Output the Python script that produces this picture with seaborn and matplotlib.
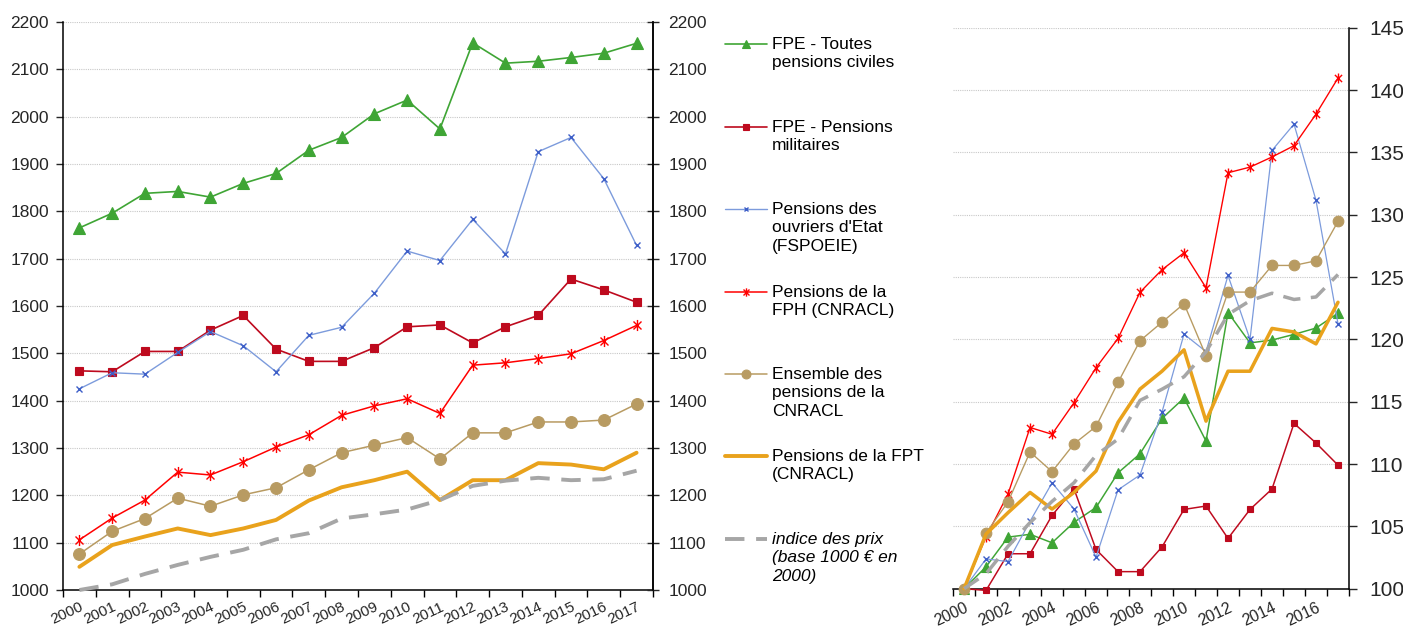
import numpy as np
import pandas as pd
import matplotlib
matplotlib.use("Agg")
import matplotlib.pyplot as plt
from matplotlib.lines import Line2D
from matplotlib.path import Path
import seaborn as sns

# ---- data: average pension amounts (euros), 2000-2017 ----
years = list(range(2000, 2018))

fpe_civiles = [1765, 1796, 1838, 1842, 1830, 1859, 1880, 1929, 1956,
               2006, 2035, 1974, 2156, 2113, 2117, 2125, 2134, 2155]
fpe_militaires = [1463, 1461, 1504, 1504, 1549, 1580, 1509, 1483, 1483,
                  1512, 1556, 1560, 1522, 1556, 1580, 1657, 1634, 1608]
ouvriers_etat = [1425, 1459, 1456, 1502, 1546, 1516, 1461, 1538, 1555,
                 1627, 1716, 1696, 1783, 1710, 1926, 1956, 1869, 1728]
fph_cnracl = [1106, 1152, 1190, 1249, 1243, 1271, 1302, 1328, 1369,
              1389, 1404, 1373, 1475, 1480, 1489, 1499, 1527, 1559]
ensemble_cnracl = [1076, 1124, 1151, 1194, 1177, 1201, 1216, 1254, 1290,
                   1306, 1322, 1277, 1332, 1332, 1355, 1355, 1359, 1393]
fpt_cnracl = [1049, 1095, 1113, 1130, 1116, 1130, 1148, 1189, 1217,
              1232, 1250, 1190, 1232, 1232, 1268, 1265, 1255, 1290]
indice_prix = [1000, 1012, 1034, 1053, 1070, 1085, 1107, 1120, 1151,
               1160, 1170, 1190, 1220, 1231, 1237, 1232, 1234, 1252]

series_labels = [
    "FPE - Toutes\npensions civiles",
    "FPE - Pensions\nmilitaires",
    "Pensions des\nouvriers d'Etat\n(FSPOEIE)",
    "Pensions de la\nFPH (CNRACL)",
    "Ensemble des\npensions de la\nCNRACL",
    "Pensions de la FPT\n(CNRACL)",
    "indice des prix\n(base 1000 \u20ac en\n2000)",
]

left_ticks = list(range(1000, 2201, 100))
right_ticks = list(range(100, 146, 5))

# asterisk marker: vertical bar plus a cross
star = Path([(0, -1), (0, 1), (-0.72, -0.72), (0.72, 0.72), (-0.72, 0.72), (0.72, -0.72)],
            [Path.MOVETO, Path.LINETO, Path.MOVETO, Path.LINETO, Path.MOVETO, Path.LINETO])

styles = [
    dict(color="#3FA535", marker="^", ms=8, mfc="#3FA535", mec="#3FA535", lw=1.2),
    dict(color="#BE0A1E", marker="s", ms=5.5, mfc="#BE0A1E", mec="#BE0A1E", lw=1.2),
    dict(color="#7C9BDC", marker="x", ms=4.5, mfc="none", mec="#3E5FC8", mew=1.0, lw=1.0),
    dict(color="#FF0000", marker=star, ms=8, mfc="none", mec="#FF0000", mew=1.0, lw=1.1),
    dict(color="#B89B62", marker="o", ms=8.5, mfc="#B89B62", mec="#B89B62", lw=1.1),
    dict(color="#E9A21C", marker=None, lw=2.8),
    dict(color="#A6A6A6", marker=None, lw=2.8, dashes=(5, 3)),
]

all_series = [fpe_civiles, fpe_militaires, ouvriers_etat, fph_cnracl,
              ensemble_cnracl, fpt_cnracl, indice_prix]

df = pd.DataFrame({"annee": years})
for i, vals in enumerate(all_series):
    df[f"s{i}"] = vals
    # base 100 in 2000
    df[f"i{i}"] = np.array(vals) / vals[0] * 100

sns.set_style("white")
plt.rcParams["font.family"] = ["Liberation Sans", "DejaVu Sans"]

fig = plt.figure(figsize=(14.03, 6.28), dpi=100)
ax1 = fig.add_axes([0.0449, 0.0605, 0.4205, 0.9045])
ax2 = fig.add_axes([0.6793, 0.0626, 0.2822, 0.8933])

grid_kw = dict(color="#C8C8C8", lw=0.8, ls=(0, (1, 1)))


def draw(ax, prefix, scale):
    for i, st in enumerate(styles):
        st = dict(st)
        kw = dict(color=st.pop("color"), lw=st.pop("lw") * scale)
        dashes = st.pop("dashes", None)
        marker = st.pop("marker")
        line_kw = {}
        if marker is not None:
            line_kw = dict(marker=marker, markersize=st.pop("ms") * scale,
                           markerfacecolor=st.pop("mfc"), markeredgecolor=st.pop("mec"),
                           markeredgewidth=st.pop("mew", 0.8))
        sns.lineplot(data=df, x="annee", y=f"{prefix}{i}", ax=ax, zorder=3 + i,
                     clip_on=False, legend=False, **kw, **line_kw)
        if dashes is not None:
            ax.lines[-1].set_dashes(dashes)
    ax.set_xlim(years[0] - 0.5, years[-1] + 0.5)
    ax.set_xlabel("")
    ax.set_ylabel("")
    ax.grid(False)
    ax.set_xticks(np.arange(years[0] - 0.5, years[-1] + 1, 1), minor=True)
    ax.tick_params(axis="x", which="minor", length=5, width=1.0, direction="out",
                   color="#000000", bottom=True)


# ---- left panel: euros ----
draw(ax1, "s", 1.0)
ax1.set_ylim(1000, 2200)
ax1.set_yticks(left_ticks)
for t in left_ticks[1:]:
    ax1.axhline(t, zorder=0, **grid_kw)
ax1.set_xticks(years)
ax1.set_xticklabels([str(y) for y in years], rotation=25, ha="right",
                    rotation_mode="anchor", fontsize=11)
ax1.tick_params(axis="x", which="major", length=0, pad=7)
ax1.tick_params(axis="y", which="major", length=5, width=1.0, direction="out",
                labelsize=12.5, pad=5, left=True)
for side in ["left", "bottom", "right"]:
    ax1.spines[side].set_visible(True)
    ax1.spines[side].set_color("#000000")
    ax1.spines[side].set_linewidth(1.1)
ax1.spines["top"].set_visible(False)

ax1r = ax1.twinx()
ax1r.set_ylim(1000, 2200)
ax1r.set_yticks(left_ticks)
ax1r.tick_params(axis="y", length=8, width=1.0, direction="inout", labelsize=12.5, pad=7,
                 right=True)
for side in ["left", "top", "bottom"]:
    ax1r.spines[side].set_visible(False)
ax1r.spines["right"].set_color("#000000")
ax1r.spines["right"].set_linewidth(1.1)

# ---- right panel: base 100 index ----
draw(ax2, "i", 0.9)
ax2.set_ylim(100, 145)
ax2.set_yticks(right_ticks)
for t in right_ticks[1:]:
    ax2.axhline(t, zorder=0, **grid_kw)
ax2.set_xticks(years[::2])
ax2.set_xticklabels([str(y) for y in years[::2]], rotation=25, ha="right",
                    rotation_mode="anchor", fontsize=11.5)
ax2.tick_params(axis="x", which="major", length=0, pad=8)
ax2.yaxis.tick_right()
ax2.tick_params(axis="y", which="major", length=6, width=1.0, direction="out",
                labelsize=15, pad=9, right=True, left=False)
ax2.spines["left"].set_visible(False)
ax2.spines["top"].set_visible(False)
for side in ["bottom", "right"]:
    ax2.spines[side].set_visible(True)
    ax2.spines[side].set_color("#000000")
    ax2.spines[side].set_linewidth(1.1)

# ---- legend between the two panels ----
W, H = 1403.0, 628.0
entry_y = [44, 127, 209, 292, 374, 456, 539]
hx0, hx1, tx = 725, 767, 772
for i, (st, lab, yy) in enumerate(zip(styles, series_labels, entry_y)):
    st = dict(st)
    yf = 1 - yy / H
    ln = Line2D([hx0 / W, hx1 / W], [yf, yf], transform=fig.transFigure,
                color=st["color"], lw=st["lw"])
    if "dashes" in st:
        ln.set_dashes(st["dashes"])
    fig.add_artist(ln)
    if st.get("marker") is not None:
        mk = Line2D([(hx0 + hx1) / 2 / W], [yf], transform=fig.transFigure,
                    marker=st["marker"], markersize=st["ms"] * 0.75,
                    markerfacecolor=st["mfc"], markeredgecolor=st["mec"],
                    markeredgewidth=st.get("mew", 0.8), lw=0)
        fig.add_artist(mk)
    fig.text(tx / W, 1 - (yy - 7) / H, lab, ha="left", va="top", fontsize=12.5,
             linespacing=1.28, style="italic" if i == 6 else "normal", color="#000000")

fig.savefig("out.png", dpi=100)
